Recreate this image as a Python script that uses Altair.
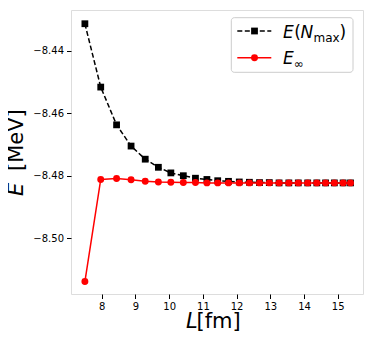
import altair as alt
import pandas as pd

L_fm = [7.50, 7.97, 8.44, 8.87, 9.29, 9.68, 10.05, 10.42, 10.78, 11.12, 11.44, 11.76,
        12.08, 12.38, 12.68, 12.97, 13.26, 13.55, 13.83, 14.11, 14.38, 14.64, 14.90,
        15.16, 15.38]
E_nmax = [-8.4313, -8.4516, -8.4637, -8.4705, -8.4747, -8.4773, -8.4791, -8.4800,
          -8.4808, -8.4812, -8.4816, -8.4818, -8.4820, -8.4821, -8.4822, -8.4822,
          -8.4823, -8.4823, -8.4823, -8.4823, -8.4823, -8.4823, -8.4823, -8.4823,
          -8.4823]
E_inf = [-8.5139, -8.4812, -8.4809, -8.4813, -8.4818, -8.4820, -8.4821, -8.4822,
         -8.4822, -8.4823, -8.4823, -8.4823, -8.4823, -8.4823, -8.4823, -8.4823,
         -8.4823, -8.4823, -8.4823, -8.4823, -8.4823, -8.4823, -8.4823, -8.4823,
         -8.4823]
x_ticks = [8, 9, 10, 11, 12, 13, 14, 15]
y_ticks = [-8.50, -8.48, -8.46, -8.44]

W, H = 292, 284
FONT = "DejaVu Sans"

df = pd.DataFrame({"L": L_fm, "Enmax": E_nmax, "Einf": E_inf})

xs = alt.Scale(domain=[7.088, 15.75], nice=False, zero=False)
ys = alt.Scale(domain=[-8.5179, -8.4269], nice=False, zero=False)

xaxis = alt.Axis(values=x_ticks, title=None, grid=False, domain=False, tickSize=4.5,
                 tickColor="black", labelColor="black", labelFont=FONT, labelFontSize=10,
                 labelPadding=3, format="d")
yaxis = alt.Axis(values=y_ticks, title=None, grid=False, domain=False, tickSize=4.5,
                 tickColor="black", labelColor="black", labelFont=FONT, labelFontSize=10,
                 labelPadding=3, format=".2f")

base = alt.Chart(df)
black_line = base.mark_line(color="black", strokeWidth=1.5, strokeDash=[5, 2.5]).encode(
    x=alt.X("L:Q", scale=xs, axis=xaxis), y=alt.Y("Enmax:Q", scale=ys, axis=yaxis))
black_pts = base.mark_point(shape="square", filled=True, color="black", size=46, opacity=1).encode(
    x=alt.X("L:Q", scale=xs), y=alt.Y("Enmax:Q", scale=ys))
red_line = base.mark_line(color="#ff0000", strokeWidth=1.5).encode(
    x=alt.X("L:Q", scale=xs), y=alt.Y("Einf:Q", scale=ys))
red_pts = base.mark_circle(color="#ff0000", size=48, opacity=1).encode(
    x=alt.X("L:Q", scale=xs), y=alt.Y("Einf:Q", scale=ys))

one = pd.DataFrame({"k": [0]})


def txt(s, x, y, size, style="normal", angle=0, align="left", baseline="alphabetic"):
    return alt.Chart(one).mark_text(text=s, font=FONT, fontSize=size, fontStyle=style,
                                    angle=angle, align=align, baseline=baseline,
                                    color="black").encode(x=alt.value(x), y=alt.value(y))


# legend
leg_box = alt.Chart(one).mark_rect(fill="white", fillOpacity=0.8, stroke="#cccccc",
                                   strokeWidth=1, cornerRadius=3).encode(
    x=alt.value(160.3), x2=alt.value(282), y=alt.value(7.7), y2=alt.value(62.3))
leg_l1 = alt.Chart(one).mark_rule(color="black", strokeWidth=1.5, strokeDash=[5, 2.5]).encode(
    x=alt.value(166.3), x2=alt.value(200.3), y=alt.value(21))
leg_p1 = alt.Chart(one).mark_point(shape="square", filled=True, color="black", size=46, opacity=1).encode(
    x=alt.value(183.5), y=alt.value(21))
leg_l2 = alt.Chart(one).mark_rule(color="#ff0000", strokeWidth=1.5).encode(
    x=alt.value(166.3), x2=alt.value(200.3), y=alt.value(47.7))
leg_p2 = alt.Chart(one).mark_circle(color="#ff0000", size=48, opacity=1).encode(
    x=alt.value(183.5), y=alt.value(47.7))

leg_texts = [
    txt("E", 212, 28.3, 17, "italic"),
    txt("(", 223.2, 28.3, 17),
    txt("N", 229.5, 28.3, 17, "italic"),
    txt("max", 242.5, 31.8, 12),
    txt(")", 268.5, 28.3, 17),
    txt("E", 212, 54.3, 17, "italic"),
    txt("\u221e", 222.7, 57.8, 12),
]

# axis titles
titles = [
    txt("L", 115, 317.7, 21, "italic"),
    txt("[fm]", 125.5, 317.7, 21),
    txt("E", -48.3, 186, 21, "italic", angle=270),
    txt("[MeV]", -48.3, 161, 21, angle=270),
]

chart = alt.layer(black_line, black_pts, red_line, red_pts, leg_box, leg_l1, leg_p1,
                  leg_l2, leg_p2, *leg_texts, *titles).properties(
    width=W, height=H,
    autosize=alt.AutoSizeParams(type="none"),
    padding={"left": 63, "top": 2, "right": 3, "bottom": 42},
).configure_view(stroke="#333333", strokeWidth=1).configure(background="white")

chart.save("out.html", embed_options={"renderer": "svg", "actions": False})
